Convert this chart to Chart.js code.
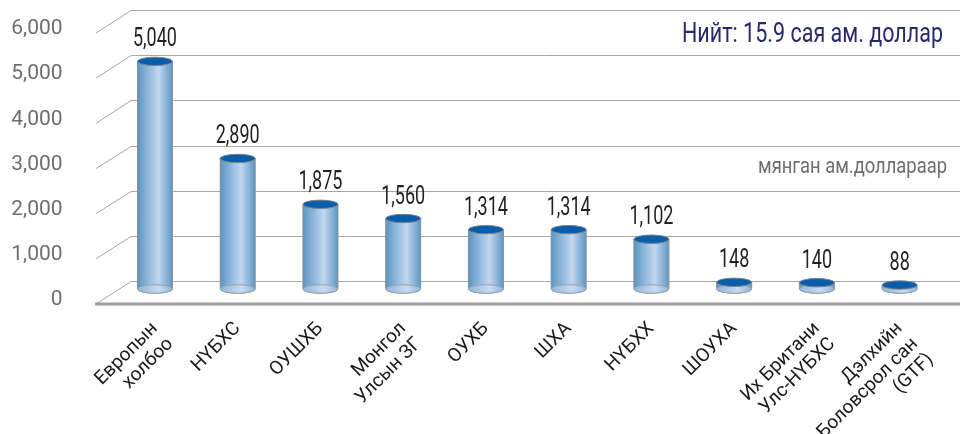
<!DOCTYPE html>
<html>
<head>
<meta charset="utf-8">
<script src="https://cdn.jsdelivr.net/npm/chart.js@4.4.1/dist/chart.umd.min.js"></script>
<style>
    html, body { margin: 0; padding: 0; background: #ffffff; }
    #wrap { width: 960px; height: 434px; }
</style>
</head>
<body>
<div id="wrap"><canvas id="chart" width="960" height="434"></canvas></div>
<script>
// Data (мянган ам.доллар)
const categories = [
    ["Европын", "холбоо"],
    "НҮБХС",
    "ОУШХБ",
    ["Монгол", "Улсын ЗГ"],
    "ОУХБ",
    "ШХА",
    "НҮБХХ",
    "ШОУХА",
    ["Их Британи", "Улс-НҮБХС"],
    ["Дэлхийн", "Боловсрол сан", "(GTF)"],
];
const values = [5040, 2890, 1875, 1560, 1314, 1314, 1102, 148, 140, 88];
const valueLabels = ["5,040", "2,890", "1,875", "1,560", "1,314", "1,314", "1,102", "148", "140", "88"];
const yTicks = [0, 1000, 2000, 3000, 4000, 5000, 6000];
const yTickLabels = ["0", "1,000", "2,000", "3,000", "4,000", "5,000", "6,000"];
const totalText = "Нийт: 15.9 сая ам. доллар";
const unitText = "мянган ам.доллараар";

const FONT = "Roboto, 'Noto Sans', sans-serif";

// depth of the fake 3D box, relative to the plane the cylinders stand on
const BACK = { dx: 17.5, dy: -8 };
const FRONT = { dx: -17.5, dy: 15 };

function drawCondensed(ctx, text, x, y, size, color, align, sx, weight) {
    ctx.save();
    ctx.font = (weight || "normal") + " " + size + "px " + FONT;
    ctx.fillStyle = color;
    ctx.textAlign = align;
    ctx.textBaseline = "alphabetic";
    ctx.translate(x, y);
    ctx.scale(sx, 1);
    ctx.fillText(text, 0, 0);
    ctx.restore();
}

function fitScale(ctx, text, size, width) {
    ctx.save();
    ctx.font = size + "px " + FONT;
    const w = ctx.measureText(text).width;
    ctx.restore();
    return width / w;
}

function drawCylinder(ctx, x, top, base, w) {
    const rx = w / 2, ry = 4.2;
    const left = x - rx, right = x + rx;

    const g = ctx.createLinearGradient(left, 0, right, 0);
    g.addColorStop(0, "#5a95c0");
    g.addColorStop(0.25, "#86b2d8");
    g.addColorStop(0.6, "#c2d6ef");
    g.addColorStop(1, "#5c98c3");

    // body
    ctx.beginPath();
    ctx.moveTo(left, top);
    ctx.lineTo(left, base);
    ctx.ellipse(x, base, rx, ry, 0, Math.PI, 0, true);
    ctx.lineTo(right, top);
    ctx.closePath();
    ctx.fillStyle = g;
    ctx.fill();
    ctx.strokeStyle = "#8a8f94";
    ctx.lineWidth = 1;
    ctx.stroke();

    // see-through bottom
    const gb = ctx.createLinearGradient(left, 0, right, 0);
    gb.addColorStop(0, "#8fb6da");
    gb.addColorStop(0.6, "#c9dbf1");
    gb.addColorStop(1, "#8fb6da");
    ctx.beginPath();
    ctx.ellipse(x, base, rx, ry, 0, 0, Math.PI * 2);
    ctx.fillStyle = gb;
    ctx.fill();
    ctx.strokeStyle = "#9aa0a6";
    ctx.stroke();

    // top cap
    ctx.beginPath();
    ctx.ellipse(x, top, rx, ry, 0, 0, Math.PI * 2);
    ctx.fillStyle = "#0a5dab";
    ctx.fill();
    ctx.strokeStyle = "#7d8389";
    ctx.stroke();
}

const boxPlugin = {
    id: "box3d",
    beforeDatasetsDraw(chart) {
        const ctx = chart.ctx;
        const area = chart.chartArea;
        const y = chart.scales.y;
        const backX = area.left + BACK.dx;
        const frontX = area.left + FRONT.dx;

        ctx.save();
        ctx.lineWidth = 1;
        ctx.strokeStyle = "#a5a7aa";
        y.ticks.forEach(t => {
            const py = y.getPixelForValue(t.value);
            const by = Math.round(py + BACK.dy) + 0.5;
            ctx.beginPath();
            ctx.moveTo(frontX, py + FRONT.dy);
            ctx.lineTo(backX, by);
            ctx.lineTo(chart.width, by);
            ctx.stroke();
        });

        // floor front edge
        const p0 = y.getPixelForValue(0);
        ctx.strokeStyle = "#9c9ea1";
        ctx.lineWidth = 3;
        ctx.beginPath();
        ctx.moveTo(frontX - 1, p0 + FRONT.dy);
        ctx.lineTo(chart.width, p0 + FRONT.dy);
        ctx.stroke();
        ctx.restore();
    },
    afterDatasetsDraw(chart) {
        const ctx = chart.ctx;
        const meta = chart.getDatasetMeta(0);
        ctx.save();
        meta.data.forEach((bar, i) => {
            drawCylinder(ctx, bar.x, bar.y, bar.base, bar.width);
        });
        meta.data.forEach((bar, i) => {
            drawCondensed(ctx, valueLabels[i], bar.x, bar.y - 15, 25, "#231f20", "center", 0.72);
        });
        ctx.restore();
    },
    afterDraw(chart) {
        const ctx = chart.ctx;
        const sTitle = fitScale(ctx, totalText, 27, 261);
        drawCondensed(ctx, totalText, 943, 42, 27, "#262a6c", "right", sTitle);
        const sUnit = fitScale(ctx, unitText, 22, 189);
        drawCondensed(ctx, unitText, 947, 173, 22, "#6d6e71", "right", sUnit);
    },
};

new Chart(document.getElementById("chart"), {
    type: "bar",
    data: {
        labels: categories,
        datasets: [{
            data: values,
            backgroundColor: "rgba(0,0,0,0)",
            borderWidth: 0,
            categoryPercentage: 1,
            barPercentage: 0.423,
        }],
    },
    options: {
        responsive: false,
        devicePixelRatio: 1,
        animation: false,
        layout: { padding: { top: 18, right: 19, left: 0, bottom: 0 } },
        plugins: {
            legend: { display: false },
            tooltip: { enabled: false },
        },
        scales: {
            x: {
                offset: true,
                grid: { display: false, drawTicks: false },
                border: { display: false },
                ticks: {
                    autoSkip: false,
                    minRotation: 45,
                    maxRotation: 45,
                    padding: 29,
                    color: "#1a1a1a",
                    font: { family: FONT, size: 19, lineHeight: 1.15 },
                },
                afterFit(scale) {
                    scale.height = 145;
                    scale.paddingLeft = 0;
                    scale.paddingRight = 0;
                },
            },
            y: {
                min: 0,
                max: 6000,
                afterBuildTicks(scale) {
                    scale.ticks = yTicks.map(v => ({ value: v }));
                },
                grid: { display: false, drawTicks: false },
                border: { display: false },
                ticks: {
                    padding: 51,
                    labelOffset: 11,
                    color: "#6d6e71",
                    font: { family: FONT, size: 21 },
                    callback: (v) => yTickLabels[yTicks.indexOf(v)],
                },
                afterFit(scale) {
                    scale.width = 113.6;
                    scale.paddingTop = 0;
                    scale.paddingBottom = 0;
                },
            },
        },
    },
    plugins: [boxPlugin],
});
</script>
</body>
</html>
